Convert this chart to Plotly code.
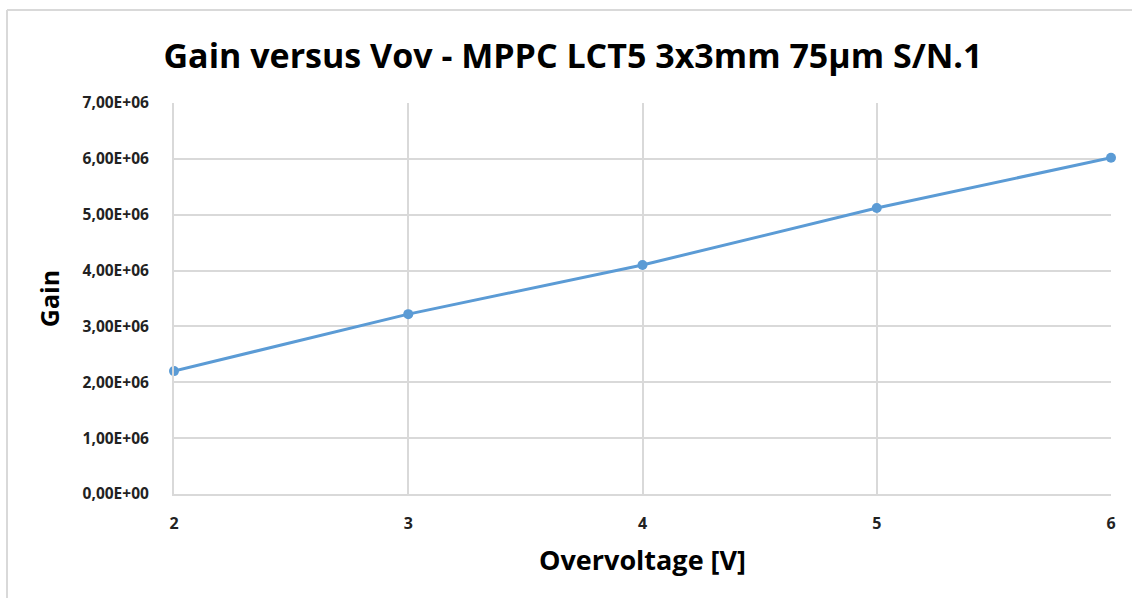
import plotly.graph_objects as go

overvoltage = [2, 3, 4, 5, 6]
gain = [2.20e6, 3.22e6, 4.10e6, 5.12e6, 6.02e6]
y_tick_vals = [0, 1e6, 2e6, 3e6, 4e6, 5e6, 6e6, 7e6]
y_tick_text = ["0,00E+00", "1,00E+06", "2,00E+06", "3,00E+06",
               "4,00E+06", "5,00E+06", "6,00E+06", "7,00E+06"]
x_tick_vals = [2, 3, 4, 5, 6]

FONT = "Open Sans, sans-serif"
BLUE = "#5B9BD5"
GRID = "#D9D9D9"

W, H = 1132, 598
L, R, T, B = 174, 21, 103, 104
pw, ph = W - L - R, H - T - B

def px(x):
    return (x - L) / pw

def py(y):
    return (H - B - y) / ph

fig = go.Figure()
fig.add_trace(go.Scatter(
    x=overvoltage, y=gain, mode="lines+markers",
    line=dict(color=BLUE, width=3),
    marker=dict(color=BLUE, size=10),
    cliponaxis=False, showlegend=False,
))

fig.update_layout(
    width=W, height=H,
    margin=dict(l=L, r=R, t=T, b=B),
    paper_bgcolor="white", plot_bgcolor="white",
    font=dict(family=FONT, color="#000000"),
    title=dict(text="<b>Gain versus Vov - MPPC LCT5 3x3mm 75µm S/N.1</b>",
               x=(163 + 983) / 2 / W, xanchor="center",
               y=1 - 56 / H, yanchor="middle",
               font=dict(size=34, family=FONT, color="#000000")),
    xaxis=dict(range=[2, 6], tickvals=x_tick_vals,
               ticktext=[f"<b>{v}</b>" for v in x_tick_vals],
               showgrid=True, gridcolor=GRID, gridwidth=2,
               zeroline=False, showline=True, linecolor=GRID, linewidth=2,
               ticks="", ticklabelstandoff=14,
               tickfont=dict(size=16, family=FONT, color="#222222"),
               title=dict(text="<b>Overvoltage [V]</b>", standoff=18,
                          font=dict(size=27, family=FONT, color="#000000"))),
    yaxis=dict(range=[0, 7e6], tickvals=y_tick_vals,
               ticktext=[f"<b>{t}</b>" for t in y_tick_text],
               showgrid=True, gridcolor=GRID, gridwidth=2,
               zeroline=False, showline=True, linecolor=GRID, linewidth=2,
               ticks="", ticklabelstandoff=20,
               tickfont=dict(size=15.5, family=FONT, color="#222222"),
               title=dict(text="<b>Gain</b>", standoff=16,
                          font=dict(size=25, family=FONT, color="#000000"))),
    shapes=[
        dict(type="line", xref="paper", yref="paper",
             x0=px(7), x1=px(W + 5), y0=py(10), y1=py(10),
             line=dict(color="#D9D9D9", width=2)),
        dict(type="line", xref="paper", yref="paper",
             x0=px(7), x1=px(7), y0=py(10), y1=py(H + 5),
             line=dict(color="#D9D9D9", width=2)),
    ],
)

fig.write_html("out.html",
               config={"displayModeBar": False},
               post_script="document.body.style.margin='0';document.body.style.padding='0';")
